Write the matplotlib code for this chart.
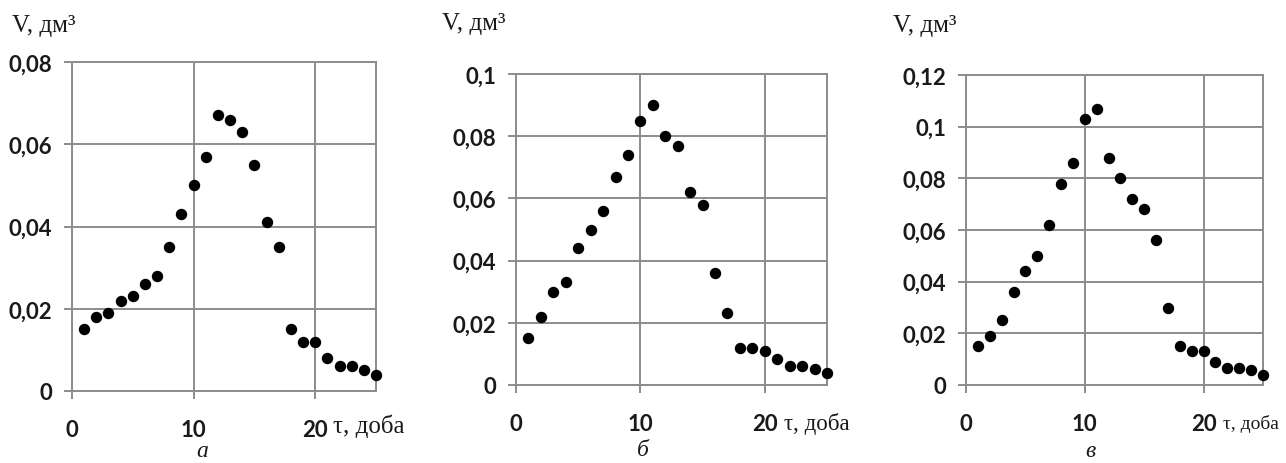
import matplotlib
matplotlib.use("Agg")
import matplotlib.pyplot as plt

days = list(range(1, 26))

v_a = [0.015, 0.018, 0.019, 0.022, 0.023, 0.026, 0.028, 0.035, 0.043, 0.050,
       0.057, 0.067, 0.066, 0.063, 0.055, 0.041, 0.035, 0.015, 0.012, 0.012,
       0.008, 0.006, 0.006, 0.005, 0.004]
v_b = [0.015, 0.022, 0.030, 0.033, 0.044, 0.050, 0.056, 0.067, 0.074, 0.085,
       0.090, 0.080, 0.077, 0.062, 0.058, 0.036, 0.023, 0.012, 0.012, 0.011,
       0.0085, 0.006, 0.006, 0.005, 0.004]
v_c = [0.015, 0.019, 0.025, 0.036, 0.044, 0.050, 0.062, 0.078, 0.086, 0.103,
       0.107, 0.088, 0.080, 0.072, 0.068, 0.056, 0.030, 0.015, 0.013, 0.013,
       0.009, 0.0065, 0.0065, 0.006, 0.004]

x_ticks = [0, 10, 20]
x_ticklabels = ["0", "10", "20"]
y_ticks_a = [0, 0.02, 0.04, 0.06, 0.08]
y_ticklabels_a = ["0", "0,02", "0,04", "0,06", "0,08"]
y_ticks_b = [0, 0.02, 0.04, 0.06, 0.08, 0.1]
y_ticklabels_b = ["0", "0,02", "0,04", "0,06", "0,08", "0,1"]
y_ticks_c = [0, 0.02, 0.04, 0.06, 0.08, 0.1, 0.12]
y_ticklabels_c = ["0", "0,02", "0,04", "0,06", "0,08", "0,1", "0,12"]

y_label = "V, дм³"
x_label = "τ, доба"
panel_names = ["а", "б", "в"]

W, H = 1286, 464
fig = plt.figure(figsize=(W / 100, H / 100), dpi=100)

def rect(l, r, t, b):
    return [l / W, 1 - b / H, (r - l) / W, (b - t) / H]

def fx(x):
    return x / W

def fy(y):
    return 1 - y / H

grid_col = "#8c8c8c"
text_col = "#1a1a1a"
sans = ["Lato", "DejaVu Sans"]
serif = ["Liberation Serif", "DejaVu Serif"]

# rect, values, yticks, yticklabels, ymax, ylabel pos, xlabel pos, xlabel size, name pos
panels = [
    (rect(72, 376, 63, 392), v_a, y_ticks_a, y_ticklabels_a, 0.08,
     (12, 26), (333, 426), 18, (202, 452)),
    (rect(516, 827, 75, 386), v_b, y_ticks_b, y_ticklabels_b, 0.1,
     (442, 24), (784, 424), 16.5, (643, 451)),
    (rect(966, 1263, 76, 386), v_c, y_ticks_c, y_ticklabels_c, 0.12,
     (893, 26), (1223, 424), 14, (1090, 452)),
]

for i, (r, vals, yt, ytl, ymax, ylpos, xlpos, xls, nmpos) in enumerate(panels):
    ax = fig.add_axes(r)
    ax.plot(days, vals, linestyle="none", marker="o", markersize=7.2,
            color="black", clip_on=False, zorder=3)
    ax.set_xlim(0, 25)
    ax.set_ylim(0, ymax)
    ax.set_xticks(x_ticks)
    ax.set_xticklabels(x_ticklabels)
    ax.set_yticks(yt)
    ax.set_yticklabels(ytl)
    ax.grid(True, color=grid_col, linewidth=1.4)
    ax.set_axisbelow(True)
    for s in ax.spines.values():
        s.set_color(grid_col)
        s.set_linewidth(1.4)
    ax.tick_params(axis="both", colors=grid_col, width=1.4, length=6,
                   labelcolor=text_col, labelsize=16)
    ax.tick_params(axis="y", pad=8)
    ax.tick_params(axis="x", pad=14)
    for lab in ax.get_xticklabels() + ax.get_yticklabels():
        lab.set_family(sans)
        lab.set_fontweight("bold")
    fig.text(fx(ylpos[0]), fy(ylpos[1]), y_label, family=serif, fontsize=18,
             color=text_col, ha="left", va="center")
    fig.text(fx(xlpos[0]), fy(xlpos[1]), x_label, family=serif, fontsize=xls,
             color=text_col, ha="left", va="center")
    fig.text(fx(nmpos[0]), fy(nmpos[1]), panel_names[i], family=serif,
             style="italic", fontsize=17, color=text_col, ha="center", va="center")

fig.savefig("out.png", dpi=100)
